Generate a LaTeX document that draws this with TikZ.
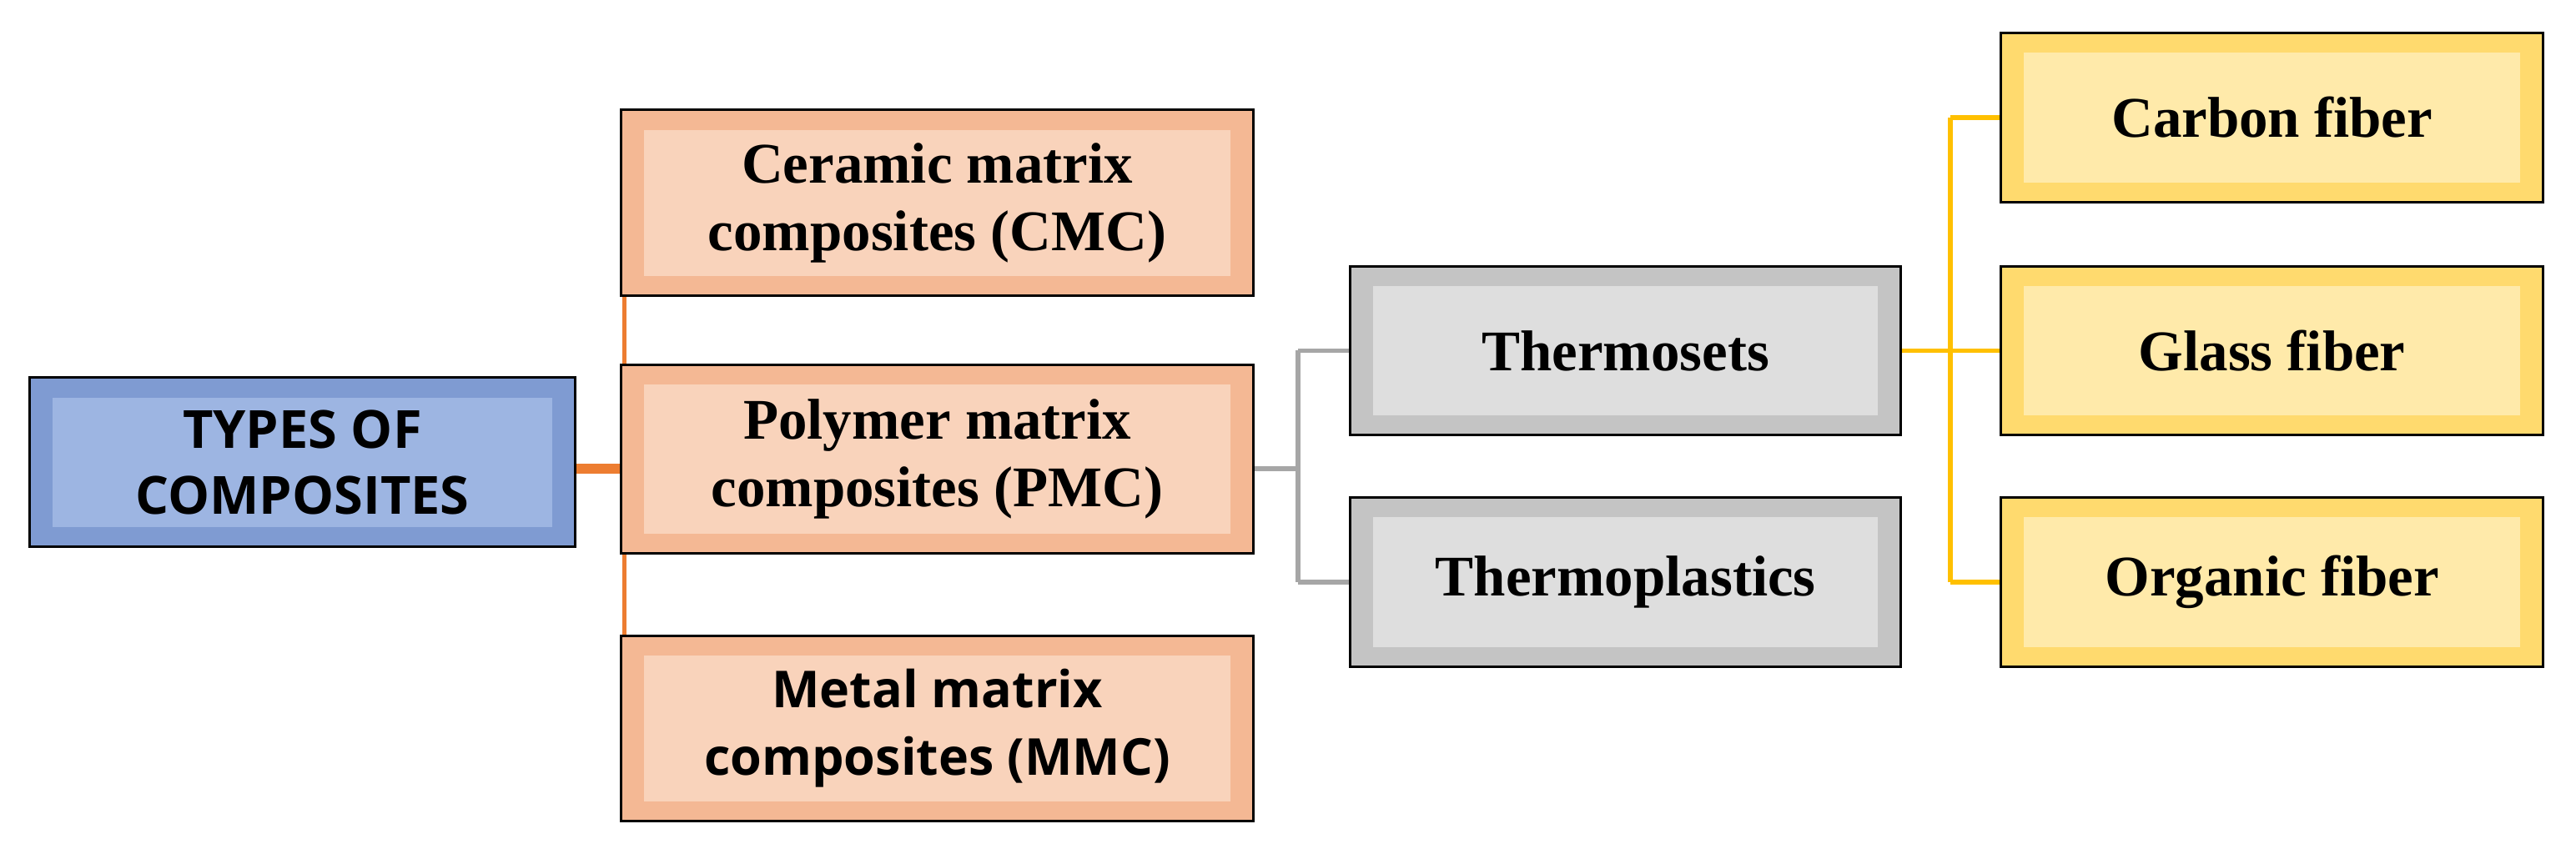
\documentclass[tikz,border=0pt]{standalone}
\usepackage{fontspec}
\setmainfont{Liberation Serif}
\newfontfamily\sansb{Open Sans}
\usetikzlibrary{calc}
\pgfdeclarelayer{bg}\pgfsetlayers{bg,main}
\definecolor{orA}{HTML}{F4B894}\definecolor{orB}{HTML}{F9D3BB}
\definecolor{blA}{HTML}{7F9BD2}\definecolor{blB}{HTML}{9DB5E2}
\definecolor{grA}{HTML}{C4C4C4}\definecolor{grB}{HTML}{DEDEDE}
\definecolor{ylA}{HTML}{FFDA6E}\definecolor{ylB}{HTML}{FFEAAA}
\definecolor{orL}{HTML}{ED7D31}\definecolor{grL}{HTML}{A6A6A6}\definecolor{ylL}{HTML}{FFC000}
\begin{document}
\begin{tikzpicture}[x=1pt,y=-1pt,
 box/.style n args={4}{draw=black,line width=1.5pt,fill=#1,minimum width=#3,minimum height=#4,inner sep=0pt,
   align=center,font=\fontsize{35}{41}\selectfont\bfseries,
   path picture={\fill[#2] ([xshift=14pt,yshift=-12pt]path picture bounding box.north west) rectangle ([xshift=-14pt,yshift=12pt]path picture bounding box.south east);}},
 ob/.style={box={orA}{orB}{385pt}{113pt}},
 gb/.style={box={grA}{grB}{335pt}{103pt}},
 yb/.style={box={ylA}{ylB}{330pt}{103pt}}]
\useasboundingbox (0,0) rectangle (1568,523);
\node[box={blA}{blB}{332pt}{103pt},font=\fontsize{32}{40}\selectfont\sansb\bfseries] (types) at (184,281.5) {TYPES OF\\COMPOSITES};
\node[ob] (cmc) at (570.5,123.5) {Ceramic matrix\\composites (CMC)};
\node[ob,minimum height=115pt] (pmc) at (570.5,279.5) {Polymer matrix\\composites (PMC)};
\node[ob,font=\fontsize{31}{41}\selectfont\sansb\bfseries] (mmc) at (570.5,443.5) {Metal matrix\\composites (MMC)};
\node[gb] (tset) at (989.5,213.5) {Thermosets};
\node[gb] (tpl) at (989.5,354.5) {Thermoplastics};
\node[yb] (cf) at (1383,71.5) {Carbon fiber};
\node[yb] (gf) at (1383,213.5) {Glass fiber};
\node[yb] (of) at (1383,354.5) {Organic fiber};
\coordinate (gx) at (790,0);
\coordinate (yx) at (1187,0);
\begin{pgfonlayer}{bg}
\draw[orL,line width=6pt] ($(types.east)+(0,4)$) -- ($(types.east-|pmc.west)+(0,4)$);
\draw[orL,line width=2.5pt] ($(cmc.south west)+(3,0)$) -- ($(mmc.north west)+(3,0)$);
\draw[grL,line width=3pt] ($(pmc.east)+(0,6)$) -- ($(pmc.east-|gx)+(0,6)$);
\draw[grL,line width=3pt] (tset.west-|gx) -- (tset.west) (tpl.west-|gx) -- (tpl.west) (tset.west-|gx) -- (tpl.west-|gx);
\draw[ylL,line width=3pt] (tset.east) -- (gf.west) (cf.west-|yx) -- (cf.west) (of.west-|yx) -- (of.west) (cf.west-|yx) -- (of.west-|yx);
\end{pgfonlayer}
\end{tikzpicture}
\end{document}
